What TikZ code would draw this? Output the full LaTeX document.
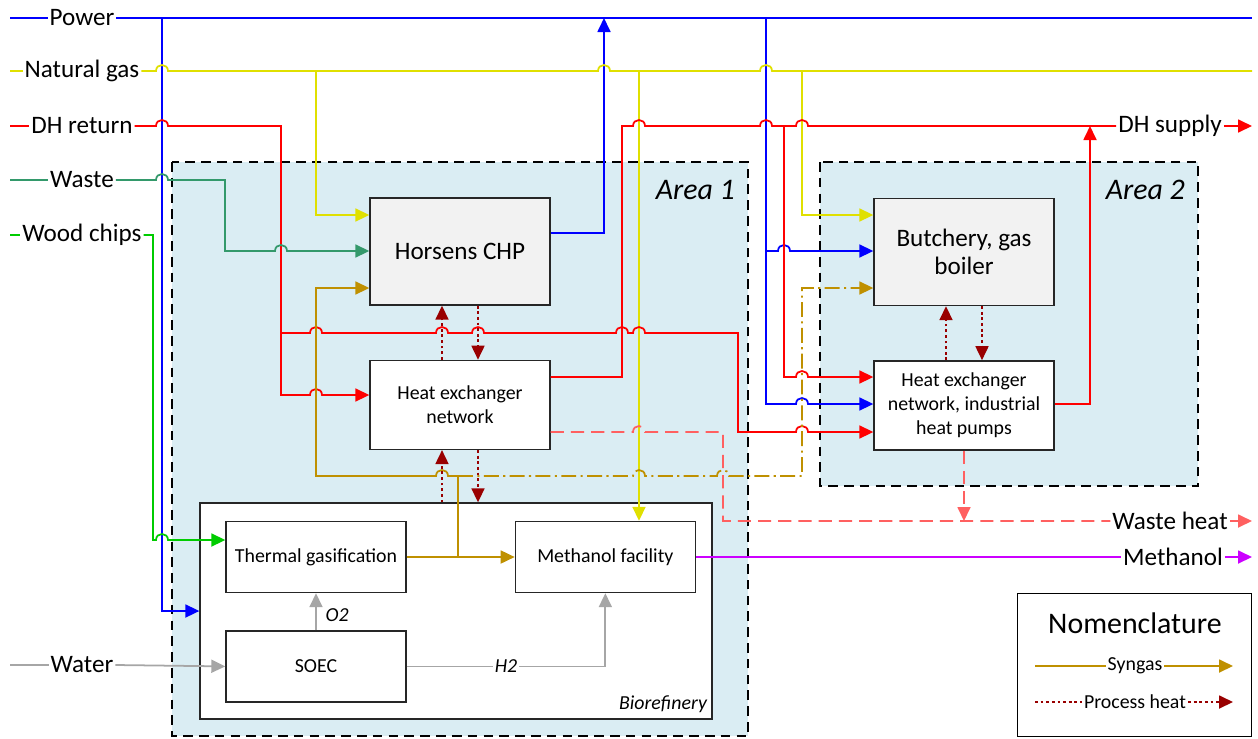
\documentclass[tikz,border=0pt]{standalone}
\usepackage{fontspec}
\setmainfont{Carlito}
\usepackage{tikz}
\usetikzlibrary{arrows.meta,positioning}
\definecolor{areab}{HTML}{DAEDF3}
\definecolor{boxg}{HTML}{F2F2F2}
\definecolor{boxln}{HTML}{262626}
\definecolor{powc}{HTML}{0000FF}
\definecolor{gasc}{HTML}{E0E000}
\definecolor{dhc}{HTML}{FF0000}
\definecolor{wastec}{HTML}{33996B}
\definecolor{woodc}{HTML}{00CC00}
\definecolor{syngc}{HTML}{BF9000}
\definecolor{phc}{HTML}{990000}
\definecolor{whc}{HTML}{FF6060}
\definecolor{meoc}{HTML}{CC00FF}
\definecolor{watc}{HTML}{A6A6A6}
\newcommand{\hopr}[2]{-- (#1-6,#2) .. controls (#1-6,#2-8) and (#1+6,#2-8) .. (#1+6,#2)}
\newcommand{\hopl}[2]{-- (#1+6,#2) .. controls (#1+6,#2-8) and (#1-6,#2-8) .. (#1-6,#2)}
\tikzset{
  unit/.style={draw=boxln, fill=white, line width=0.8pt, align=center, inner sep=2pt,
               minimum width=3.6cm, font=\fontsize{11.3}{13.6}\selectfont},
  unitg/.style={unit, fill=boxg, minimum height=2.14cm, font=\fontsize{14.3}{16.2}\selectfont},
  area/.style={draw=black, fill=areab, line width=1.1pt, dash pattern=on 5.5pt off 3.5pt},
  rail/.style={inner sep=1pt, font=\fontsize{14.3}{16}\selectfont},
  tag/.style={inner sep=1pt, font=\fontsize{11.3}{13}\selectfont\itshape},
  key/.style={inner sep=1pt, font=\fontsize{11.3}{13}\selectfont},
  arealbl/.style={anchor=east, font=\fontsize{17}{20}\selectfont\itshape},
  flow/.style={line width=1pt},
  pw/.style={flow, draw=powc},
  ng/.style={flow, draw=gasc},
  dh/.style={flow, draw=dhc},
  wst/.style={flow, draw=wastec},
  wood/.style={flow, draw=woodc},
  sg/.style={flow, draw=syngc},
  sgd/.style={sg, dash pattern=on 8.5pt off 2.5pt on 1.2pt off 2.5pt},
  ph/.style={flow, draw=phc, dash pattern=on 1.6pt off 1.6pt},
  wh/.style={flow, draw=whc, dash pattern=on 7.5pt off 4pt},
  meo/.style={flow, draw=meoc},
  wat/.style={flow, draw=watc},
  arr/.style={-{Triangle[length=2.8mm, width=2.6mm]}},
}
\begin{document}
\begin{tikzpicture}[x=0.02cm, y=-0.02cm, node distance=1.08cm]
  \useasboundingbox (0,0) rectangle (1258,738);
  \draw[area] (172,162) rectangle (748,736);
  \draw[area] (820,162) rectangle (1198,486);
  \node[arealbl] (area1) at (741,190) {Area 1};
  \node[arealbl] (area2) at (1191,190) {Area 2};

  \node[unitg] (chp) at (460,251.5) {Horsens CHP};
  \node[unit, minimum height=1.78cm, below=of chp] (hen1) {Heat exchanger\\network};
  \node[unitg] (butch) at (964,252) {Butchery, gas\\boiler};
  \node[unit, minimum height=1.78cm, below=of butch] (hen2) {Heat exchanger\\network, industrial\\heat pumps};
  \node[draw=boxln, fill=white, line width=0.8pt, minimum width=10.24cm, minimum height=4.32cm] (bio) at (456,611) {};
  \node[tag, anchor=south east] (biol) at (709,715) {Biorefinery};
  \node[unit, minimum height=1.42cm] (gasif) at (316,557) {Thermal gasification};
  \node[unit, minimum height=1.42cm, below=0.74cm of gasif] (soec) {SOEC};
  \node[unit, minimum height=1.42cm, right=2.16cm of gasif] (meoh) {Methanol facility};

  \node[rail] (lpw) at (82,18) {Power};
  \node[rail] (lng) at (82,71) {Natural gas};
  \node[rail] (ldh) at (82,126) {DH return};
  \node[rail] (lws) at (82,180) {Waste};
  \node[rail] (lwc) at (82,235) {Wood chips};
  \node[rail] (lwa) at (82,665) {Water};
  \node[rail] (ldhs) at (1170,126) {DH supply};
  \node[rail] (lwh) at (1170,521) {Waste heat};
  \node[rail] (lme) at (1173,557) {Methanol};
  \coordinate (pw0) at (10,18);
  \coordinate (ng0) at (10,71);
  \coordinate (dh0) at (10,126);
  \coordinate (ws0) at (10,180);
  \coordinate (wc0) at (10,235);
  \coordinate (wa0) at (10,665);

  \draw[pw] (pw0) -- (lpw.west);
  \draw[pw] (lpw.east) -- (1252,18);
  \draw[pw, arr] (162,18) |- (bio.west);
  \draw[pw, arr] (chp.east |- 0,233) -| (604,18);
  \draw[pw, arr] (766,18) -- (766,251) \hopr{784}{251} -- (butch.west |- 0,251);
  \draw[pw, arr] (766,251) -- (766,404) \hopr{802}{404} -- (hen2.west |- 0,404);

  \draw[ng] (ng0) -- (lng.west);
  \draw[ng] (lng.east) \hopr{162}{71} \hopr{604}{71} \hopr{766}{71} -- (1252,71);
  \draw[ng, arr] (316,71) |- (chp.west |- 0,215);
  \draw[ng, arr] (639,71) -- (meoh.north -| 639,0);
  \draw[ng, arr] (802,71) |- (butch.west |- 0,215);

  \draw[dh] (dh0) -- (ldh.west);
  \draw[dh, arr] (ldh.east) \hopr{162}{126} -- (281,126) -- (281,395) \hopr{316}{395} -- (hen1.west |- 0,395);
  \draw[dh, arr] (281,333) \hopr{316}{333} \hopr{442}{333} \hopr{478}{333} \hopr{622}{333} \hopr{639}{333} -- (738,333) -- (738,432) \hopr{802}{432} -- (hen2.west |- 0,432);
  \draw[dh] (hen1.east |- 0,377) -- (622,377) -- (622,126) \hopr{639}{126} \hopr{766}{126} \hopr{802}{126} -- (ldhs.west);
  \draw[dh, arr] (ldhs.east) -- (1252,126);
  \draw[dh, arr] (784,126) -- (784,377) \hopr{802}{377} -- (hen2.west |- 0,377);
  \draw[dh, arr] (hen2.east |- 0,404) -| (1090,126);

  \draw[wst] (ws0) -- (lws.west);
  \draw[wst, arr] (lws.east) \hopr{162}{180} -- (225,180) -- (225,251) \hopr{281}{251} -- (chp.west |- 0,251);
  \draw[wood] (wc0) -- (lwc.west);
  \draw[wood, arr] (lwc.east) -- (153,235) -- (153,540) \hopr{162}{540} -- (gasif.west |- 0,540);

  \draw[sg, arr] (gasif.east) -- (meoh.west);
  \draw[sg, arr] (458,557) -- (458,476) \hopl{442}{476} -- (316,476) -- (316,288) -- (chp.west |- 0,288);
  \draw[sgd, arr] (458,476) \hopr{639}{476} \hopr{723}{476} -- (802,476) -- (802,288) -- (butch.west |- 0,288);

  \draw[ph, arr] (hen1.north -| 442,0) -- (chp.south -| 442,0);
  \draw[ph, arr] (chp.south -| 478,0) -- (hen1.north -| 478,0);
  \draw[ph, arr] (bio.north -| 442,0) -- (hen1.south -| 442,0);
  \draw[ph, arr] (hen1.south -| 478,0) -- (bio.north -| 478,0);
  \draw[ph, arr] (hen2.north -| 946,0) -- (butch.south -| 946,0);
  \draw[ph, arr] (butch.south -| 982,0) -- (hen2.north -| 982,0);

  \draw[wh] (hen1.east |- 0,432) \hopr{639}{432} -- (723,432) -- (723,521) -- (lwh.west);
  \draw[wh, arr] (lwh.east) -- (1252,521);
  \draw[wh, arr] (hen2.south) -- (hen2.south |- lwh.west);

  \draw[meo] (meoh.east) -- (lme.west);
  \draw[meo, arr] (lme.east) -- (1252,557);

  \draw[wat] (wa0) -- (lwa.west);
  \draw[wat, arr] (lwa.east) -- (soec.west);
  \draw[wat, arr] (soec.north) -- node[tag, pos=0.4, right=4pt] (o2) {O2} (gasif.south);
  \draw[wat, arr] (soec.east) -| node[tag, pos=0.25, fill=white] (h2) {H2} (meoh.south);

  \node[draw=black, fill=white, line width=0.8pt, minimum width=4.68cm, minimum height=2.86cm] (nom) at (1134.5,665) {};
  \node[font=\fontsize{17}{20}\selectfont] (nomt) at (1135,623) {Nomenclature};
  \node[key] (ksg) at (1135,666) {Syngas};
  \node[key] (kph) at (1135,702) {Process heat};
  \draw[sg] (1035,666) -- (ksg.west);
  \draw[sg, arr] (ksg.east) -- (1233,666);
  \draw[ph] (1035,702) -- (kph.west);
  \draw[ph, arr] (kph.east) -- (1233,702);
\end{tikzpicture}
\end{document}
